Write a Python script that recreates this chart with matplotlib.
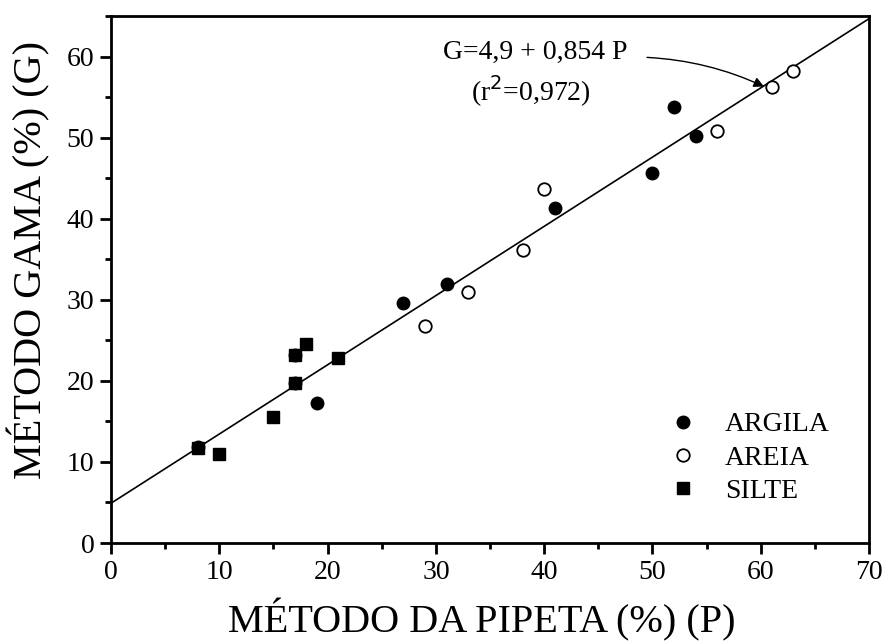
import matplotlib.pyplot as plt
import numpy as np
from matplotlib.ticker import MultipleLocator

plt.rcParams['font.family'] = ['Liberation Serif', 'DejaVu Serif']

# ARGILA (filled circles)
argila_p = [8, 17, 17, 19, 27, 31, 41, 50, 52, 54]
argila_g = [11.8, 19.7, 23.2, 17.3, 29.6, 32.0, 41.3, 45.6, 53.8, 50.2]

# AREIA (open circles)
areia_p = [29, 33, 38, 40, 56, 61, 63]
areia_g = [26.8, 30.9, 36.2, 43.7, 50.8, 56.3, 58.2]

# SILTE (squares)
silte_p = [8, 10, 15, 17, 17, 18, 21]
silte_g = [11.7, 11.0, 15.5, 19.7, 23.2, 24.6, 22.8]

# regression G = a + b P
a, b = 4.9, 0.854

fig = plt.figure(figsize=(8.85, 6.42), dpi=100)
ax = fig.add_axes([0.1254, 0.1542, 0.8566, 0.8208])

xs = np.array([0, 70])
ax.plot(xs, a + b * xs, color='black', lw=1.2, zorder=1)

ax.plot(silte_p, silte_g, 's', color='black', ms=9, zorder=3, label='SILTE')
ax.plot(argila_p, argila_g, 'o', color='black', ms=9, zorder=3, label='ARGILA')
ax.plot(areia_p, areia_g, 'o', mfc='white', mec='black', mew=1.3, ms=9, zorder=3, label='AREIA')

ax.set_xlim(0, 70)
ax.set_ylim(0, 65)
ax.xaxis.set_major_locator(MultipleLocator(10))
ax.xaxis.set_minor_locator(MultipleLocator(5))
ax.yaxis.set_major_locator(MultipleLocator(10))
ax.yaxis.set_minor_locator(MultipleLocator(5))
ax.tick_params(which='major', direction='out', length=8, width=2, labelsize=20, pad=4)
ax.tick_params(which='minor', direction='out', length=4.5, width=2)
for s in ax.spines.values():
    s.set_linewidth(2)

ax.set_xlabel('MÉTODO DA PIPETA (%) (P)', fontsize=29, labelpad=10)
ax.set_ylabel('MÉTODO GAMA (%) (G)', fontsize=29)
ax.yaxis.set_label_coords(-0.08, 0.537)
ax.xaxis.set_label_coords(0.489, -0.105)

h, l = ax.get_legend_handles_labels()
order = [1, 2, 0]
ax.legend([h[i] for i in order], [l[i] for i in order], loc='upper left',
          bbox_to_anchor=(0.718, 0.275), frameon=False, fontsize=20,
          handletextpad=1.0, labelspacing=0.28, handlelength=1.0, borderpad=0)

ax.text(39.2, 60.5, 'G=4,9 + 0,854 P', fontsize=20, ha='center', va='center')
ax.text(38.8, 55.7, '(r$^2$=0,972)', fontsize=20, ha='center', va='center')
ax.annotate('', xy=(60.3, 56.3), xytext=(49.5, 59.9),
            arrowprops=dict(arrowstyle='-|>', color='black', lw=1,
                            connectionstyle='angle3,angleA=-3,angleB=-25',
                            mutation_scale=15, shrinkA=0, shrinkB=0))

fig.savefig('out.png', dpi=100)
